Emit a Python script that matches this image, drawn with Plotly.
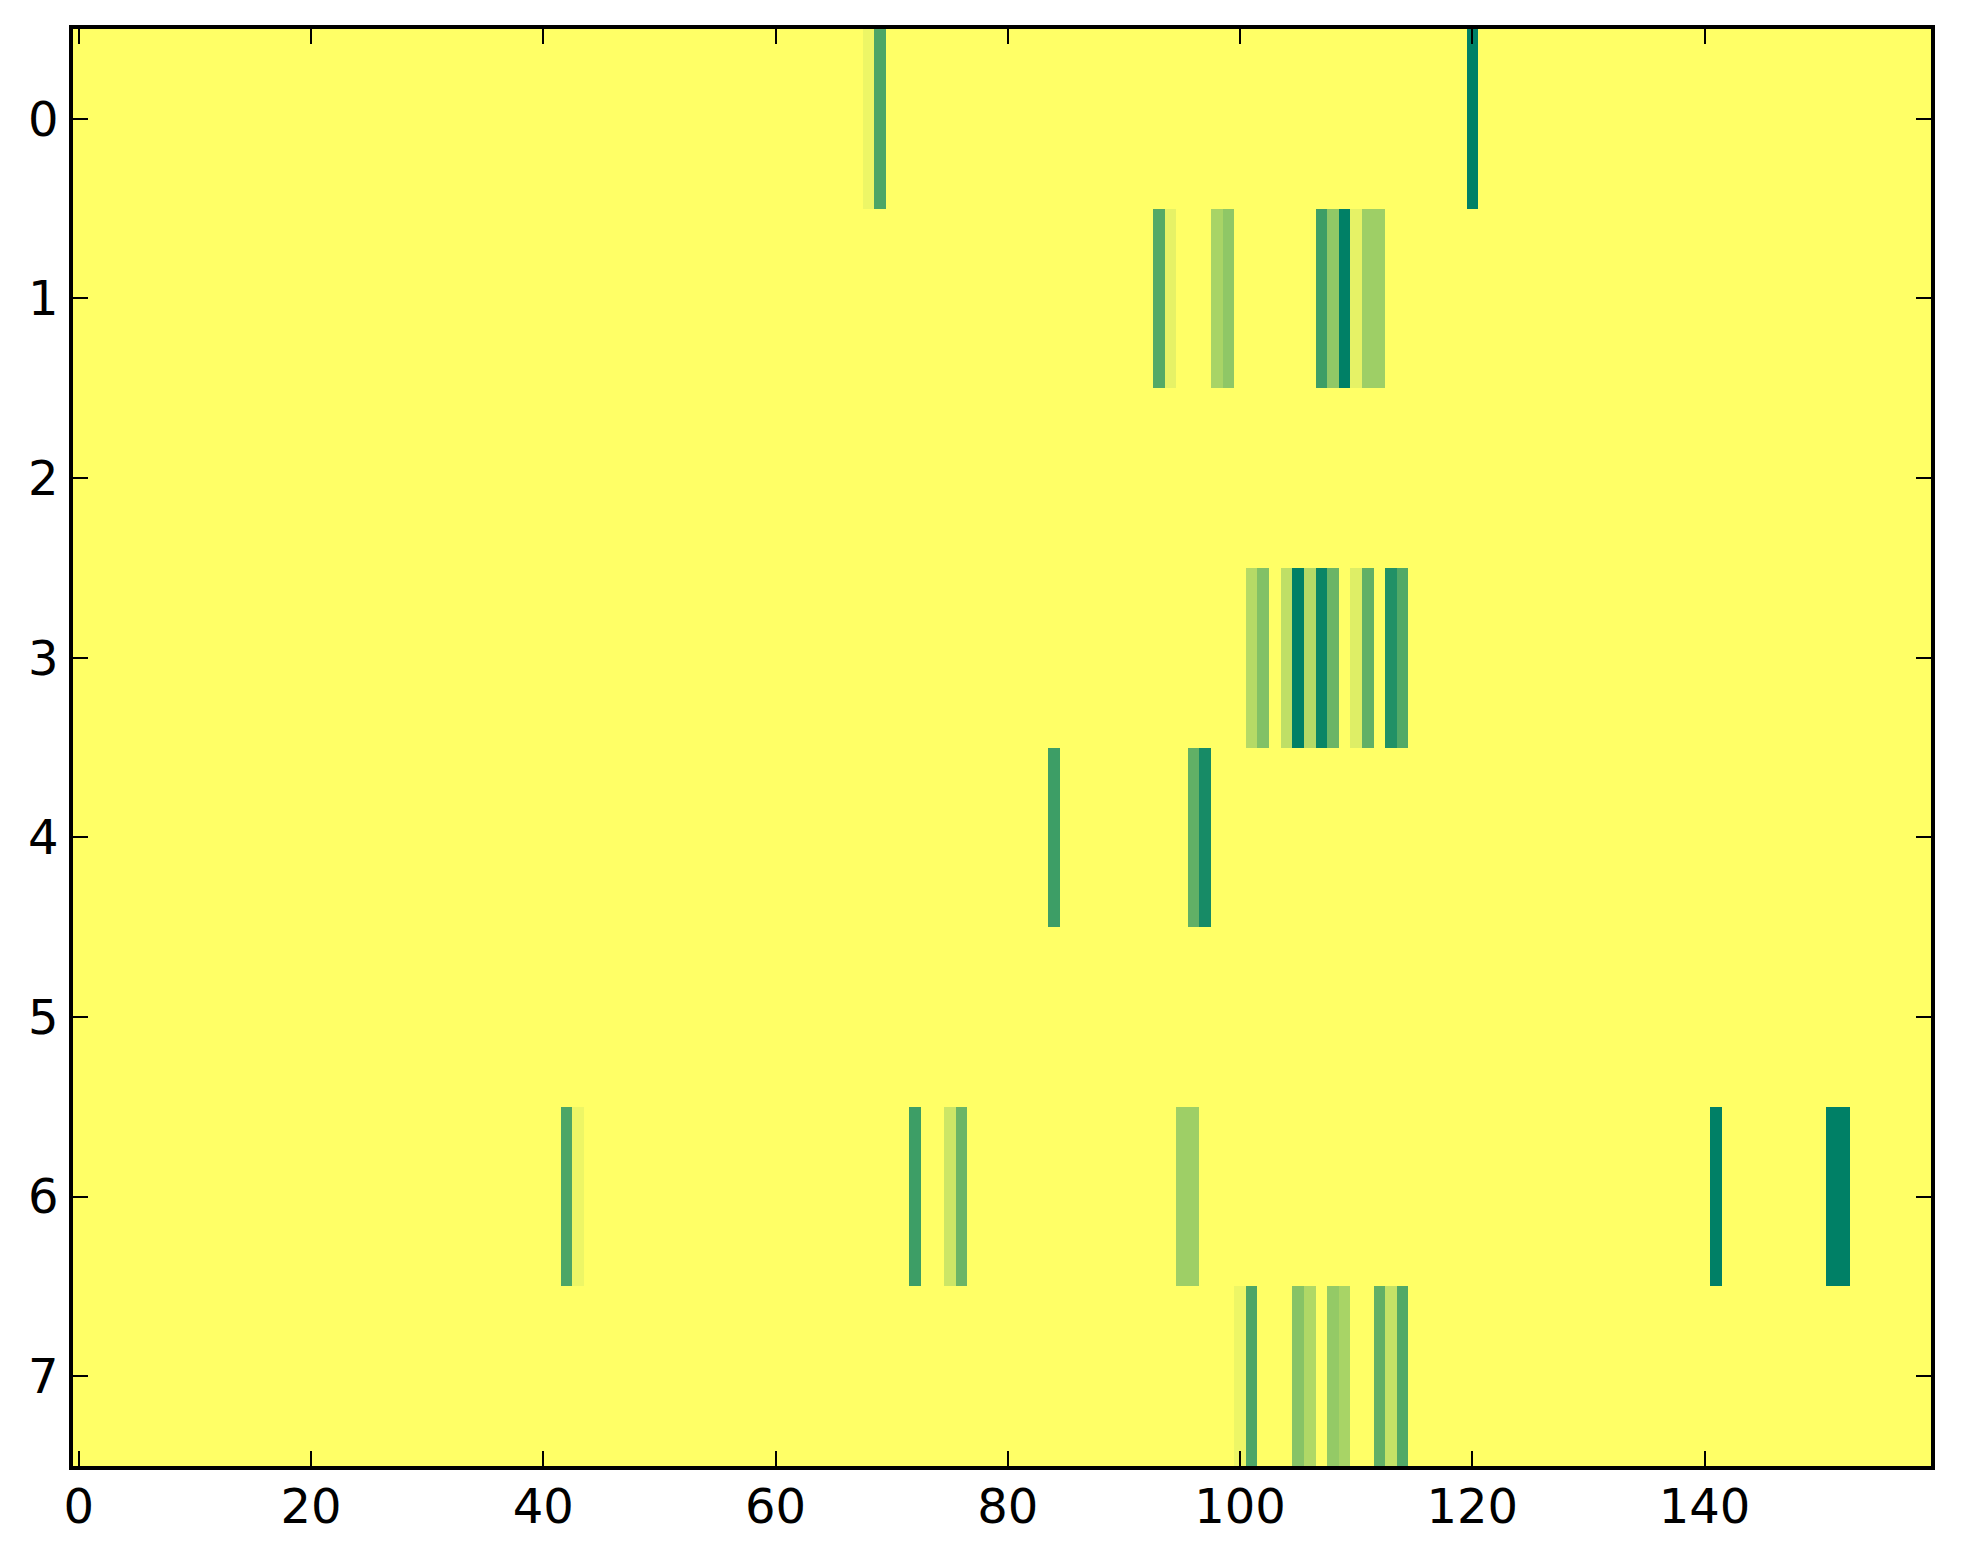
import numpy as np
import plotly.graph_objects as go

n_rows = 8
n_cols = 160

# Non-zero cells per row: column indices and values (0 = yellow, 1 = dark green)
row0_cols = [68, 69, 120]
row0_vals = [0.07, 0.70, 1.0]
row1_cols = [93, 94, 98, 99, 107, 108, 109, 110, 111, 112]
row1_vals = [0.67, 0.10, 0.34, 0.44, 0.76, 0.43, 1.0, 0.10, 0.38, 0.38]
row2_cols = []
row2_vals = []
row3_cols = [101, 102, 104, 105, 106, 107, 108, 110, 111, 113, 114]
row3_vals = [0.29, 0.49, 0.25, 1.0, 0.29, 0.96, 0.58, 0.13, 0.62, 0.87, 0.68]
row4_cols = [84, 96, 97]
row4_vals = [0.76, 0.62, 0.91]
row5_cols = []
row5_vals = []
row6_cols = [42, 43, 72, 75, 76, 95, 96, 141, 151, 152]
row6_vals = [0.70, 0.07, 0.76, 0.20, 0.58, 0.38, 0.38, 1.0, 1.0, 1.0]
row7_cols = [100, 101, 105, 106, 108, 109, 112, 113, 114]
row7_vals = [0.07, 0.70, 0.47, 0.31, 0.42, 0.34, 0.62, 0.23, 0.68]

rows_cols = [row0_cols, row1_cols, row2_cols, row3_cols, row4_cols, row5_cols, row6_cols, row7_cols]
rows_vals = [row0_vals, row1_vals, row2_vals, row3_vals, row4_vals, row5_vals, row6_vals, row7_vals]

x_ticks = [0, 20, 40, 60, 80, 100, 120, 140]
y_ticks = [0, 1, 2, 3, 4, 5, 6, 7]

z = np.zeros((n_rows, n_cols))
for r, (cs, vs) in enumerate(zip(rows_cols, rows_vals)):
    for c, v in zip(cs, vs):
        z[r, c] = v

summer_r = [[0.0, "rgb(255,255,102)"], [1.0, "rgb(0,128,102)"]]

fig = go.Figure(go.Heatmap(
    z=z,
    x=list(range(n_cols)),
    y=list(range(n_rows)),
    colorscale=summer_r,
    zmin=0, zmax=1,
    showscale=False,
    hoverinfo="skip",
))

axis_common = dict(
    showgrid=False, zeroline=False,
    showline=True, linecolor="black", linewidth=3.5,
    mirror="ticks", ticks="inside", ticklen=15, tickwidth=2, tickcolor="black",
    tickfont=dict(family="DejaVu Sans", size=48, color="black"),
)

fig.update_layout(
    width=1963, height=1564,
    margin=dict(l=65, r=40, t=21, b=106),
    paper_bgcolor="white", plot_bgcolor="white",
    xaxis=dict(range=[-0.5, n_cols - 0.5], tickmode="array", tickvals=x_ticks,
               ticktext=[str(t) for t in x_ticks], ticklabelstandoff=-4, **axis_common),
    yaxis=dict(range=[n_rows - 0.5, -0.5], tickmode="array", tickvals=y_ticks,
               ticktext=[str(t) for t in y_ticks], ticklabelstandoff=1, **axis_common),
)

fig.write_html("out.html")
